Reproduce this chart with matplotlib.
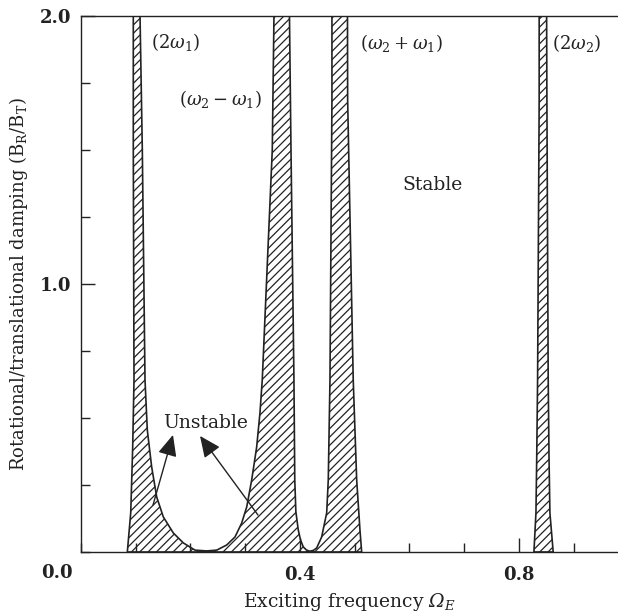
#!/usr/bin/env python3
"""Stability chart: rotational/translational damping vs exciting frequency."""

import matplotlib

matplotlib.use("Agg")
import matplotlib.pyplot as plt
from matplotlib.ticker import MultipleLocator

plt.rcParams["font.family"] = ["DejaVu Serif"]
# custom math fonts so an italic capital Omega is possible through \mathsf
plt.rcParams["mathtext.fontset"] = "custom"
plt.rcParams["mathtext.rm"] = "DejaVu Serif"
plt.rcParams["mathtext.it"] = "DejaVu Serif:italic"
plt.rcParams["mathtext.bf"] = "DejaVu Serif:bold"
plt.rcParams["mathtext.sf"] = "DejaVu Serif:italic"
plt.rcParams["hatch.linewidth"] = 0.9

INK = "#222222"

# boundaries of the unstable regions (frequency, damping)
# outer left edge of the (2w1) tongue, top -> bottom
w1_left_f = [0.0955, 0.0955, 0.0968, 0.0944, 0.0908, 0.0846]
w1_left_d = [2.0, 1.5, 0.642, 0.392, 0.146, 0.0]

# inner edge: (2w1) right side, down through the stable pocket, up the (w2-w1) left side
pocket_a_f = [0.1078, 0.1120, 0.1169, 0.1211, 0.1291, 0.1383, 0.1503, 0.1686, 0.1868,
              0.2082, 0.2296, 0.2479, 0.2661, 0.2813, 0.2935, 0.3027, 0.3118, 0.3209,
              0.3269, 0.3311, 0.3494, 0.3525]
pocket_a_d = [2.0, 1.5, 0.642, 0.455, 0.317, 0.205, 0.131, 0.071, 0.034,
              0.007, 0.004, 0.007, 0.026, 0.056, 0.108, 0.168, 0.269, 0.392,
              0.519, 0.642, 1.5, 2.0]

# inner edge: (w2-w1) right side, down through the small pocket, up the (w2+w1) left side
pocket_b_f = [0.3808, 0.3836, 0.3890, 0.3905, 0.3925, 0.3969, 0.4010, 0.4060, 0.4120,
              0.4183, 0.4245, 0.4305, 0.4396, 0.4488, 0.4517, 0.4548, 0.4584, 0.4584]
pocket_b_d = [2.0, 1.5, 0.642, 0.269, 0.150, 0.082, 0.045, 0.019, 0.007,
              0.003, 0.006, 0.015, 0.056, 0.146, 0.269, 0.642, 1.687, 2.0]

# outer right edge of the (w2+w1) tongue, top -> bottom
w21_right_f = [0.4868, 0.4871, 0.4973, 0.5036, 0.5096, 0.5127]
w21_right_d = [2.0, 1.687, 0.642, 0.269, 0.082, 0.0]

# (2w2) tongue
w2_left_f = [0.8370, 0.8370, 0.8341, 0.8325, 0.8311, 0.8274]
w2_left_d = [2.0, 1.687, 0.642, 0.350, 0.146, 0.0]
w2_right_f = [0.8506, 0.8511, 0.8535, 0.8550, 0.8566, 0.8626]
w2_right_d = [2.0, 1.687, 0.642, 0.350, 0.146, 0.0]

tongue_labels = [r"$(2\omega_1)$", r"$(\omega_2 - \omega_1)$",
                 r"$(\omega_2 + \omega_1)$", r"$(2\omega_2)$"]
tongue_label_f = [0.172, 0.254, 0.585, 0.906]
tongue_label_d = [1.904, 1.690, 1.900, 1.900]

fig = plt.figure(figsize=(6.18, 6.16), dpi=100)
ax = fig.add_axes([0.1311, 0.1039, 0.8689, 0.8701])

# big unstable region: outer left edge up, both pockets, outer right edge down
big_f = w1_left_f[::-1] + pocket_a_f + pocket_b_f + w21_right_f
big_d = w1_left_d[::-1] + pocket_a_d + pocket_b_d + w21_right_d
ax.fill(big_f, big_d, facecolor="none", edgecolor=INK, hatch="////", linewidth=1.2)

small_f = w2_left_f[::-1] + w2_right_f
small_d = w2_left_d[::-1] + w2_right_d
ax.fill(small_f, small_d, facecolor="none", edgecolor=INK, hatch="////", linewidth=1.2)

for label, f, d in zip(tongue_labels, tongue_label_f, tongue_label_d):
    ax.text(f, d, label, fontsize=13, color=INK, ha="center", va="center")

ax.text(0.642, 1.37, "Stable", fontsize=13.5, color=INK, ha="center", va="center")
ax.text(0.228, 0.483, "Unstable", fontsize=13.5, color=INK, ha="center", va="center")

arrow = dict(arrowstyle="-|>,head_length=1.0,head_width=0.45", color=INK, lw=1.0,
             shrinkA=0, shrinkB=0, mutation_scale=13)
ax.annotate("", xy=(0.168, 0.437), xytext=(0.1315, 0.175), arrowprops=arrow)
ax.annotate("", xy=(0.2174, 0.433), xytext=(0.3233, 0.138), arrowprops=arrow)

ax.set_xlim(0.0, 0.981)
ax.set_ylim(0.0, 2.0)

ax.set_xticks([0.4, 0.8])
ax.set_xticklabels(["0.4", "0.8"])
ax.xaxis.set_minor_locator(MultipleLocator(0.1))
ax.set_yticks([1.0, 2.0])
ax.set_yticklabels(["1.0", "2.0"])
ax.yaxis.set_minor_locator(MultipleLocator(0.25))

ax.tick_params(which="both", direction="in", colors=INK, width=1.0)
ax.tick_params(which="major", length=10, labelsize=13)
ax.tick_params(axis="x", which="major", pad=10)
ax.tick_params(axis="y", which="major", pad=7)
ax.tick_params(which="minor", length=6.5)
for lab in ax.get_xticklabels() + ax.get_yticklabels():
    lab.set_fontweight("bold")

ax.text(-0.045, -0.04, "0.0", transform=ax.transAxes, fontsize=13,
        fontweight="bold", color=INK, ha="center", va="center")

for side in ("left", "bottom", "top"):
    ax.spines[side].set_color(INK)
    ax.spines[side].set_linewidth(1.0)
ax.spines["right"].set_visible(False)

ax.set_xlabel(r"Exciting frequency $\mathsf{Ω}_{\mathit{E}}$", fontsize=13.5, color=INK, labelpad=5)
ax.set_ylabel(r"Rotational/translational damping (B$_{\mathrm{R}}$/B$_{\mathrm{T}}$)",
              fontsize=13, color=INK, labelpad=7)

fig.savefig("out.png", dpi=100)
plt.close(fig)
